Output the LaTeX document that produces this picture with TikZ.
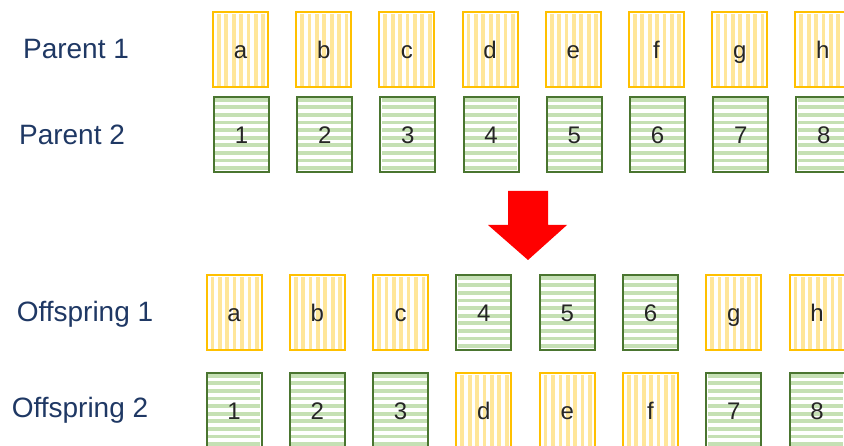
\documentclass[tikz,border=0pt]{standalone}
\usepackage{fontspec}
\setmainfont{Liberation Sans}
\usetikzlibrary{calc}

\definecolor{gold}{HTML}{FFC000}
\definecolor{paleyellow}{HTML}{FFE699}
\definecolor{leafgreen}{HTML}{4A7530}
\definecolor{palegreen}{HTML}{C5E0B4}
\definecolor{navyblue}{HTML}{1F3864}

\tikzset{
  gene/.style={minimum width=55pt, minimum height=75pt, inner sep=0pt,
    line width=2pt, text=black!85, text height=17pt, text depth=0pt,
    font=\fontsize{24}{26}\selectfont, fill=white},
  ygene/.style={gene, draw=gold,
    path picture={\foreach \k in {0,...,6}
      \fill[paleyellow] ($(path picture bounding box.south west)+(\k*7.4pt+4pt,1.2pt)$)
        rectangle ++(3.7pt,72.6pt);}},
  ggene/.style={gene, draw=leafgreen,
    path picture={\foreach \k in {0,...,9}
      \fill[palegreen] ($(path picture bounding box.south west)+(1.2pt,\k*7.6pt+2.5pt)$)
        rectangle ++(52.6pt,3.8pt);}},
  rowlabel/.style={text=navyblue, font=\fontsize{28}{30}\selectfont}
}

\begin{document}
\begin{tikzpicture}[x=1pt, y=-1pt]
\useasboundingbox (0,0) rectangle (844,446);

% row labels
\node[rowlabel] (lp1) at (76,49) {Parent 1};
\node[rowlabel] (lp2) at (72,135) {Parent 2};
\node[rowlabel] (lo1) at (85,314) {Offspring 1};
\node[rowlabel] (lo2) at (80,410) {Offspring 2};

% parents
\foreach \c [count=\i] in {a,b,c,d,e,f,g,h}
  \node[ygene] (pa\i) at ({240.5+83.2*(\i-1)},50) {\c};
\foreach \c [count=\i] in {1,...,8}
  \node[ggene] (pb\i) at ({241.5+83.2*(\i-1)},135) {\c};

% crossover arrow
\fill[red] (508,191) -- (548,191) -- (548,225) -- (567,225) -- (528,260)
  -- (488,225) -- (508,225) -- cycle;

% offspring
\foreach \c/\t [count=\i] in {a/y,b/y,c/y,4/g,5/g,6/g,g/y,h/y}
  \node[\t gene] (oa\i) at ({234+83.3*(\i-1)},313) {\c};
\foreach \c/\t [count=\i] in {1/g,2/g,3/g,d/y,e/y,f/y,7/g,8/g}
  \node[\t gene] (ob\i) at ({234+83.3*(\i-1)},411) {\c};
\end{tikzpicture}
\end{document}
